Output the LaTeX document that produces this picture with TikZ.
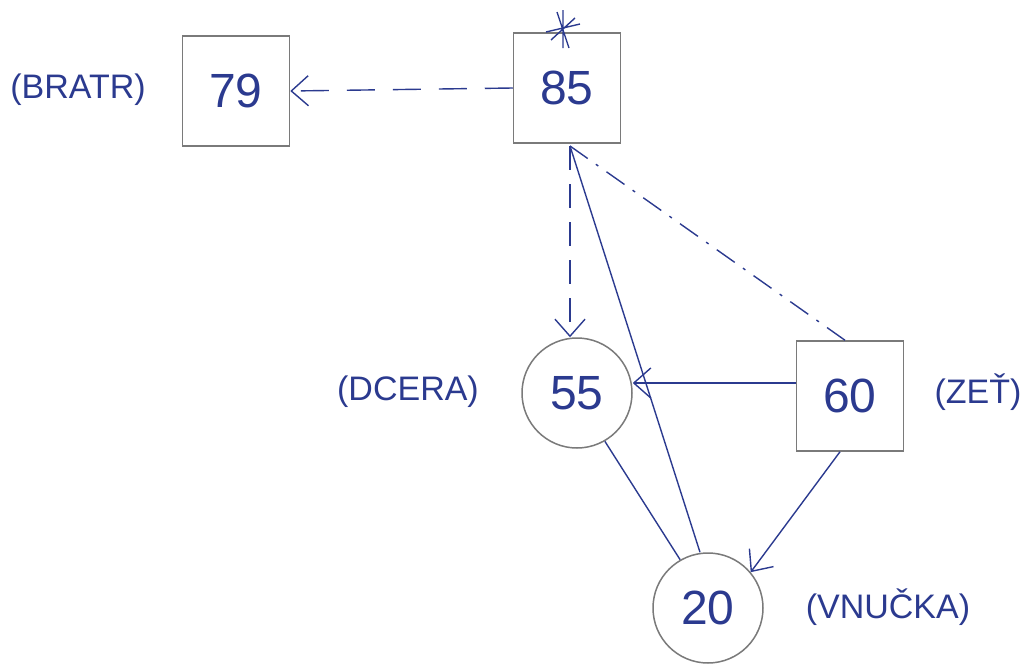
\documentclass[tikz,border=0pt]{standalone}
\usepackage{fontspec}
\setmainfont{Liberation Sans}
\usetikzlibrary{arrows.meta,calc}
\definecolor{ink}{HTML}{2B3A8F}
\definecolor{frame}{HTML}{7A7A7A}
\begin{document}
\begin{tikzpicture}[x=1pt,y=-1pt,
  person/.style={draw=frame,line width=1.5pt,text=ink,font=\fontsize{48}{48}\selectfont},
  man/.style={person,rectangle,minimum width=107pt,minimum height=110pt},
  woman/.style={person,circle,minimum size=110pt,inner sep=0pt},
  tag/.style={text=ink,font=\fontsize{34}{34}\selectfont},
  rel/.style={draw=ink,line width=1.4pt},
  tip/.style={-{Straight Barb[length=17pt,width=30pt,line width=1.4pt]}}]
\useasboundingbox (0,0) rectangle (1021,670);

% people
\node[man]   (b79) at (236,91)  {79};
\node[man]   (g85) at (567,88)  {85};
\node[woman] (d55) at (577,393) {55};
\node[man]   (z60) at (850,396) {60};
\node[woman] (v20) at (708,608) {20};

% roles
\node[tag] (lb) at (78,90)   {(BRATR)};
\node[tag] (ld) at (408,392) {(DCERA)};
\node[tag] (lz) at (978,392) {(ZEŤ)};
\node[tag] (lv) at (888,607) {(VNUČKA)};

% asterisk on the top edge of 85
\coordinate (star) at (563,30);
\draw[rel] ($(star)+(-6,-18)$) -- ($(star)+(6,18)$)
           ($(star)+(0,-20)$) -- ($(star)+(0,18)$)
           ($(star)+(-17,2)$) -- ($(star)+(17,-6)$)
           ($(star)+(-12,10)$) -- ($(star)+(12,-12)$);

% relations
\coordinate (top) at (570,146);
\draw[rel,tip,dash pattern=on 28pt off 18pt] (g85.west) -- (b79.east);
\draw[rel,tip,dash pattern=on 24pt off 14pt] (top) -- (d55.north -| top);
\draw[rel] (v20.north -| 700,0) -- (top);
\draw[rel,dash pattern=on 22pt off 10pt on 3pt off 10pt] (z60.north -| 845,0) -- (top);
\draw[rel,tip] (z60.west |- 0,383) -- (d55.east |- 0,383);
\draw[rel,tip] (z60.south -| 840,0) -- (v20.40);
\draw[rel] (d55.-60) -- (v20.120);
\end{tikzpicture}
\end{document}
